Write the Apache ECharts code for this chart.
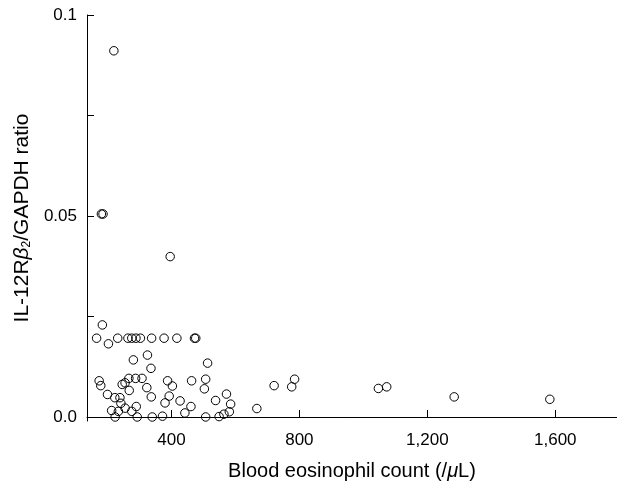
<!DOCTYPE html>
<html>
<head>
<meta charset="utf-8">
<script src="https://cdn.jsdelivr.net/npm/echarts@6/dist/echarts.min.js"></script>
<style>html,body{margin:0;padding:0;background:#fff}#c{width:617px;height:489px}</style>
</head>
<body>
<div id="c"></div>
<script>
// Blood eosinophil count (/µL)
const eosinophilCount = [
  220, 181, 186, 396, 184, 166, 203, 232, 264, 276, 289, 303, 338, 377, 417, 472, 476,
  325, 281, 336, 513, 174, 179, 267, 288, 308, 246, 255, 268, 323, 388, 403, 463, 507,
  503, 200, 223, 239, 242, 337, 393, 380, 427, 461, 442, 213, 234, 255, 276, 290, 224,
  293, 340, 372, 507, 538, 572, 585, 581, 564, 549, 667, 721, 776, 785, 1047, 1073, 1284, 1583
];
// IL-12Rβ2/GAPDH ratio
const ratio = [
  0.0911, 0.0505, 0.0505, 0.0399, 0.0229, 0.0196, 0.0182, 0.0196, 0.0196, 0.0196, 0.0196, 0.0196, 0.0196, 0.0196, 0.0196, 0.0196, 0.0196,
  0.0154, 0.0142, 0.0121, 0.0134, 0.0090, 0.0078, 0.0096, 0.0096, 0.0096, 0.0081, 0.0085, 0.0066, 0.0073, 0.0090, 0.0077, 0.0090, 0.0094,
  0.0070, 0.0056, 0.0048, 0.0048, 0.0034, 0.0050, 0.0052, 0.0035, 0.0040, 0.0026, 0.0010, 0.0016, 0.0014, 0.0022, 0.0014, 0.0026, 0.0000,
  0.0000, 0.0000, 0.0002, 0.0000, 0.0041, 0.0057, 0.0032, 0.0013, 0.0007, 0.0001, 0.0021, 0.0078, 0.0075, 0.0094, 0.0071, 0.0075, 0.0050, 0.0044
];
const xTicks = [400, 800, 1200, 1600];
const yTicks = [0, 0.025, 0.05, 0.075, 0.1];
const yLabels = [0, 0.05, 0.1];

const FONT = "'Liberation Sans', Arial, sans-serif";
const data = eosinophilCount.map((x, i) => [x, ratio[i]]);

const chart = echarts.init(document.getElementById('c'), null, {renderer: 'canvas'});
chart.setOption({
  animation: false,
  backgroundColor: '#fff',
  grid: {left: 87, right: 0, top: 15, bottom: 68, containLabel: false},
  xAxis: {
    type: 'value', min: 136, max: 1793,
    splitLine: {show: false},
    axisLine: {show: true, lineStyle: {color: '#000', width: 1}},
    axisTick: {show: true, inside: true, length: 7, customValues: xTicks, lineStyle: {color: '#000'}},
    axisLabel: {
      customValues: xTicks, margin: 11, color: '#000', fontFamily: FONT, fontSize: 17,
      formatter: v => v.toString().replace(/\B(?=(\d{3})+(?!\d))/g, ',')
    },
    name: '{n|Blood eosinophil count (/}{m|μ}{n|L)}',
    nameLocation: 'middle', nameGap: 40,
    nameTextStyle: {
      color: '#000',
      rich: {
        n: {fontFamily: FONT, fontSize: 20, color: '#000'},
        m: {fontFamily: FONT, fontSize: 20, fontStyle: 'italic', color: '#000'}
      }
    }
  },
  yAxis: {
    type: 'value', min: -0.001, max: 0.1,
    splitLine: {show: false},
    axisLine: {show: true, lineStyle: {color: '#000', width: 1}},
    axisTick: {show: true, inside: true, length: 7, customValues: yTicks, lineStyle: {color: '#000'}},
    axisLabel: {
      customValues: yLabels, margin: 10, color: '#000', fontFamily: FONT, fontSize: 17,
      formatter: v => (v === 0 ? '0.0' : String(v))
    },
    name: '{n|IL-12R}{b|β}{s|2}{n|/GAPDH ratio}',
    nameLocation: 'middle', nameGap: 52, nameRotate: 90,
    nameTextStyle: {
      color: '#000',
      rich: {
        n: {fontFamily: FONT, fontSize: 21, color: '#000'},
        b: {fontFamily: FONT, fontSize: 21, fontStyle: 'italic', color: '#000'},
        s: {fontFamily: FONT, fontSize: 12, color: '#000', verticalAlign: 'bottom'}
      }
    }
  },
  series: [{
    type: 'scatter',
    data: data,
    symbol: 'circle',
    symbolSize: 8.5,
    itemStyle: {color: 'rgba(0,0,0,0)', borderColor: '#000', borderWidth: 1, opacity: 1},
    emphasis: {disabled: true}
  }]
});
</script>
</body>
</html>
